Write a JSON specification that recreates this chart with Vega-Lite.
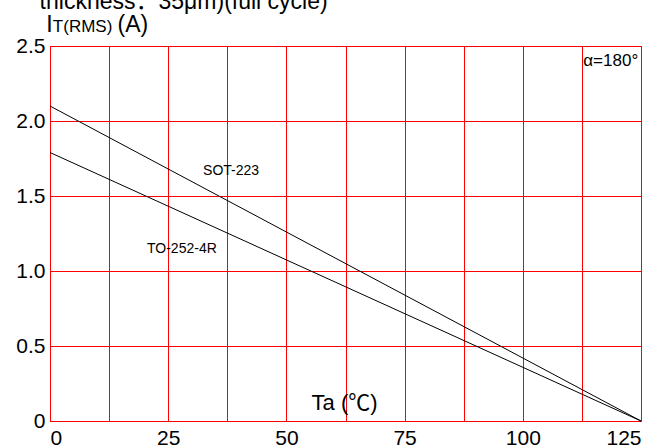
{
  "$schema": "https://vega.github.io/schema/vega-lite/v6.json",
  "width": 591,
  "height": 375,
  "autosize": "none",
  "padding": {"left": 50, "top": 46, "right": 22, "bottom": 27},
  "background": "white",
  "config": {
    "font": "Liberation Sans",
    "view": {"stroke": "#ff0000", "strokeWidth": 1}
  },
  "datasets": {
    "curves": [
      {"series": "SOT-223", "ta": 0, "i": 2.1},
      {"series": "SOT-223", "ta": 125, "i": 0},
      {"series": "TO-252-4R", "ta": 0, "i": 1.79},
      {"series": "TO-252-4R", "ta": 125, "i": 0}
    ],
    "labels": [
      {"text": "SOT-223", "ta": 38.3, "i": 1.665, "size": 14},
      {"text": "TO-252-4R", "ta": 27.9, "i": 1.15, "size": 14},
      {"text": "α=180°", "ta": 118.6, "i": 2.403, "size": 17},
      {"text": "Ta (℃)", "ta": 62.3, "i": 0.118, "size": 22}
    ],
    "heads": [
      {"text": "thickness：35μm)(full cycle)", "ta": -2.2, "i": 2.745, "size": 23},
      {"text": "I", "ta": -0.8, "i": 2.593, "size": 23},
      {"text": "T(RMS)", "ta": 0.6, "i": 2.593, "size": 17},
      {"text": "(A)", "ta": 14.3, "i": 2.593, "size": 23}
    ]
  },
  "layer": [
    {
      "data": {"name": "curves"},
      "mark": {"type": "line", "color": "black", "strokeWidth": 1},
      "encoding": {
        "x": {
          "field": "ta", "type": "quantitative",
          "scale": {"domain": [0, 125], "nice": false, "zero": false},
          "axis": {
            "values": [0, 12.5, 25, 37.5, 50, 62.5, 75, 87.5, 100, 112.5, 125],
            "labelExpr": "datum.value % 25 == 0 ? datum.label : ''",
            "title": null,
            "grid": true, "gridColor": "#ff0000", "gridOpacity": 1, "gridWidth": 1,
            "domain": true, "domainColor": "#ff0000",
            "ticks": false,
            "labelFontSize": 21, "labelColor": "black", "labelPadding": 6,
            "labelFont": "Liberation Sans"
          }
        },
        "y": {
          "field": "i", "type": "quantitative",
          "scale": {"domain": [0, 2.5], "nice": false},
          "axis": {
            "values": [0, 0.25, 0.5, 0.75, 1, 1.25, 1.5, 1.75, 2, 2.25, 2.5],
            "labelExpr": "datum.value == 0 ? '0' : (datum.value * 2) % 1 == 0 ? format(datum.value, '.1f') : ''",
            "title": null,
            "grid": true, "gridColor": "#ff0000", "gridOpacity": 1, "gridWidth": 1,
            "domain": true, "domainColor": "#ff0000",
            "ticks": false,
            "labelFontSize": 21, "labelColor": "black", "labelPadding": 5,
            "labelFont": "Liberation Sans"
          }
        },
        "detail": {"field": "series"}
      }
    },
    {
      "data": {"name": "labels"},
      "mark": {"type": "text", "color": "black", "align": "center", "baseline": "middle", "font": "Liberation Sans, 'Noto Sans CJK SC'"},
      "encoding": {
        "x": {"field": "ta", "type": "quantitative"},
        "y": {"field": "i", "type": "quantitative"},
        "text": {"field": "text"},
        "size": {"field": "size", "type": "quantitative", "scale": null}
      }
    },
    {
      "data": {"name": "heads"},
      "mark": {"type": "text", "color": "black", "align": "left", "baseline": "alphabetic", "font": "Liberation Sans, 'Noto Sans CJK SC'"},
      "encoding": {
        "x": {"field": "ta", "type": "quantitative"},
        "y": {"field": "i", "type": "quantitative"},
        "text": {"field": "text"},
        "size": {"field": "size", "type": "quantitative", "scale": null}
      }
    }
  ]
}
